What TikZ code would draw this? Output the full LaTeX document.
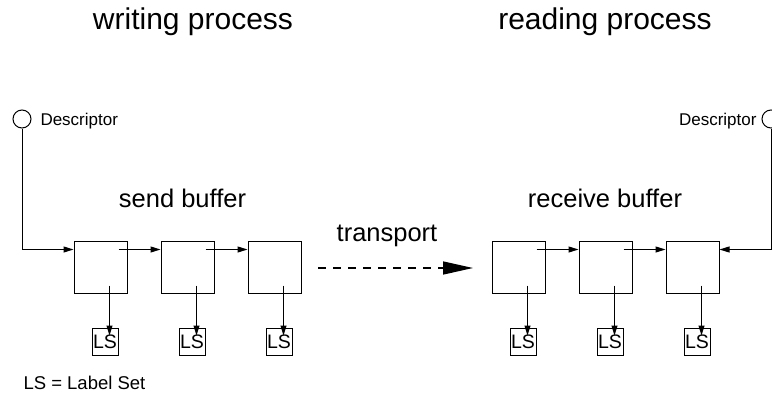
\documentclass[tikz,border=0pt]{standalone}
\usepackage{fontspec}
\setmainfont{Liberation Sans}
\usetikzlibrary{arrows.meta}
\begin{document}
\begin{tikzpicture}[x=1pt,y=-1pt,line width=1pt,
  buf/.style={draw,minimum width=53pt,minimum height=52pt,inner sep=0pt},
  lsbox/.style={draw,minimum width=26pt,minimum height=27pt,inner sep=0pt,
    font=\fontsize{19.5}{20}\selectfont},
  desc/.style={draw,circle,minimum size=18pt,inner sep=0pt},
  title/.style={anchor=base,inner sep=0pt,font=\fontsize{30}{36}\selectfont},
  lab/.style={anchor=base,inner sep=0pt,font=\fontsize{25.5}{30}\selectfont},
  small/.style={inner sep=0pt,font=\fontsize{17}{20}\selectfont},
  link/.style={-{Triangle[length=10pt,width=6pt]}},
  xfer/.style={line width=1.5pt,dash pattern=on 8pt off 7pt,
    -{Triangle[length=30pt,width=13pt]}}]
\useasboundingbox (0,0) rectangle (772,394);

% headings
\node[title] (wp) at (193,29) {writing process};
\node[title] (rp) at (605,29) {reading process};
\node[lab] (sb) at (182.5,207) {send buffer};
\node[lab] (rb) at (605,207) {receive buffer};
\node[lab] (tr) at (387,241) {transport};

% descriptors
\node[desc] (d1) at (22,119) {};
\node[small,anchor=base west] (d1t) at (40,125) {Descriptor};
\node[desc] (d2) at (771,119) {};
\node[small,anchor=base east] (d2t) at (757,125) {Descriptor};

% buffers with their label sets
\foreach \i/\x in {1/100.5,2/187.5,3/274.5,4/518.5,5/605.5,6/692.5}{
  \node[buf] (b\i) at (\x,267) {};
  \node[lsbox] (ls\i) at (\x+4.5,341.5) {LS};
  \coordinate (s\i) at ([xshift=-18pt,yshift=8pt]b\i.south east);
  \draw[link,shorten >=-8pt] (s\i) -- (s\i |- ls\i.north);
  \coordinate (e\i) at ([xshift=-9pt,yshift=-9pt]b\i.north east);
  \coordinate (w\i) at ([yshift=-9pt]b\i.north west);
}

% chains inside each buffer
\foreach \a/\b in {1/2,2/3,4/5,5/6}{
  \draw[link] (e\a) -- (w\b);
}

% descriptor lines
\coordinate (r6) at ([yshift=-9pt]b6.north east);
\draw[link] (d1.south) |- (w1);
\draw[link] (d2.south) |- (r6);

% transport
\coordinate (t1) at (318,268);
\coordinate (t2) at (473,268);
\draw[xfer] (t1) -- (t2);

\node[anchor=base west,inner sep=0pt,font=\fontsize{18.5}{20}\selectfont] (key) at (23,389) {LS = Label Set};
\end{tikzpicture}
\end{document}
